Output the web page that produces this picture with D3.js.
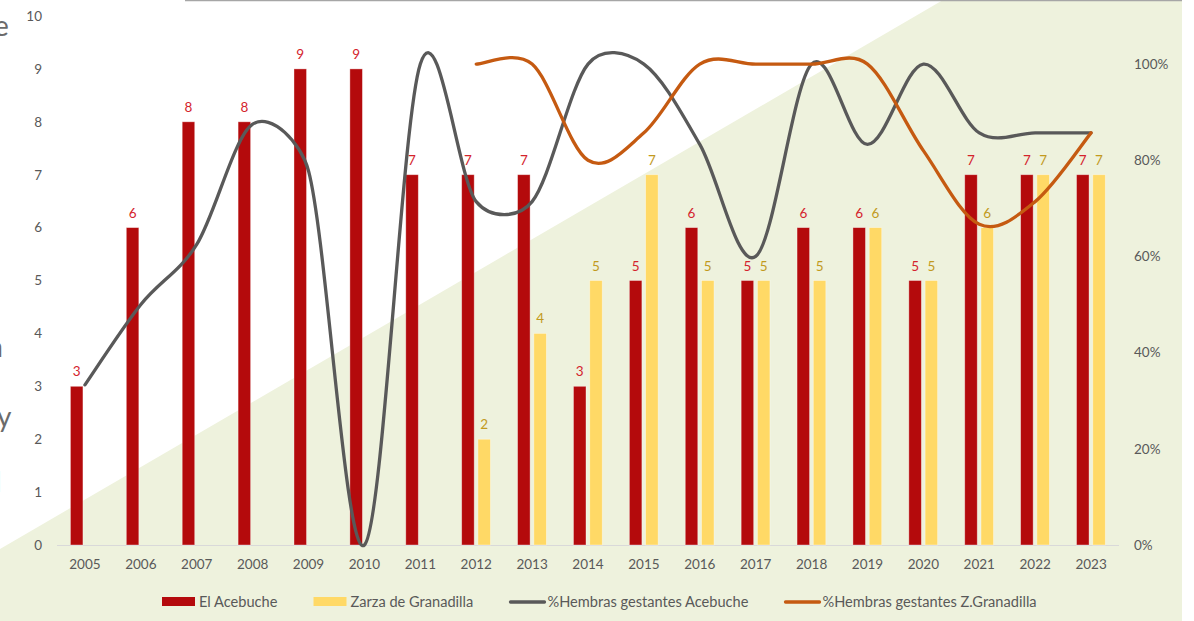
<!DOCTYPE html>
<html><head><meta charset="utf-8">
<script src="https://cdn.jsdelivr.net/npm/d3@7"></script>
<style>body{margin:0;background:#fff;overflow:hidden} svg{display:block}</style>
</head><body><svg id="c" width="1194" height="621"></svg>
<script>
const years = ["2005","2006","2007","2008","2009","2010","2011","2012","2013","2014","2015","2016","2017","2018","2019","2020","2021","2022","2023"];
const acebuche = [3,6,8,8,9,9,7,7,7,3,5,6,5,6,6,5,7,7,7];
const zarza = [null,null,null,null,null,null,null,2,4,5,7,5,5,5,6,5,6,7,7];
const pctAcebuche = [0.333,0.5,0.625,0.875,0.778,0,1,0.714,0.714,1,1,0.833,0.6,1,0.833,1,0.857,0.857,0.857];
const pctZarza = [null,null,null,null,null,null,null,1,1,0.8,0.857,1,1,1,1,0.82,0.667,0.714,0.857];
const leftTicks = [0,1,2,3,4,5,6,7,8,9,10];
const rightTicks = [0,0.2,0.4,0.6,0.8,1];
const seriesNames = ["El Acebuche","Zarza de Granadilla","%Hembras gestantes Acebuche","%Hembras gestantes Z.Granadilla"];

const C = {red:"#B40A0C", yellow:"#FFD966", gray:"#595959", orange:"#C55A11",
  redLbl:"#D4232D", yelLbl:"#C29A1E", axis:"#595959", bg:"#EEF2DD"};
const FONT = "Lato, 'Open Sans', sans-serif";

// Excel-like smoothed curve: cardinal tangents, limited relative to segment length
function excelCurve(context) {
  const K = 0.4;
  let pts = [];
  return {
    areaStart(){}, areaEnd(){},
    lineStart(){ pts = []; },
    point(x,y){ pts.push([+x,+y]); },
    lineEnd(){
      const n = pts.length; if (!n) return;
      context.moveTo(pts[0][0], pts[0][1]);
      const T = pts.map((p,i)=>{const a=pts[Math.max(0,i-1)], b=pts[Math.min(n-1,i+1)];
        return [(b[0]-a[0])/6,(b[1]-a[1])/6];});
      for (let i=0;i<n-1;i++){
        const p=pts[i], q=pts[i+1];
        const seg=Math.hypot(q[0]-p[0],q[1]-p[1]);
        const s1=Math.min(1, K*seg/(Math.hypot(T[i][0],T[i][1])||1));
        const s2=Math.min(1, K*seg/(Math.hypot(T[i+1][0],T[i+1][1])||1));
        context.bezierCurveTo(p[0]+T[i][0]*s1, p[1]+T[i][1]*s1,
          q[0]-T[i+1][0]*s2, q[1]-T[i+1][1]*s2, q[0], q[1]);
      }
    }
  };
}

const svg = d3.select("#c");
svg.append("path").attr("d","M943,0 L1182,0 L1182,621 L0,621 L0,549 Z").attr("fill",C.bg);
svg.append("line").attr("x1",185).attr("x2",1182).attr("y1",0.5).attr("y2",0.5).attr("stroke","#a6a6a6").attr("stroke-width",1.5);
// cropped slide text on left edge (cut off in the original too)
const lt = svg.append("g").attr("fill","#6b6b6b").attr("font-family",FONT).attr("font-size",28);
lt.append("text").attr("x",-6).attr("y",36).text("e");
lt.append("text").attr("x",-11).attr("y",357).text("a");
lt.append("text").attr("x",-3).attr("y",427).text("y");
lt.append("text").attr("x",-5).attr("y",492).text("l");

const x = d3.scaleBand().domain(years).range([57,1119]).padding(0);
const sub = d3.scaleBand().domain(["a","z"]).range([x.bandwidth()*0.24, x.bandwidth()*0.755]).paddingInner(0.23);
const yL = d3.scaleLinear().domain([0,10]).range([545,16]);
const yR = d3.scaleLinear().domain([0,1.1]).range([545,16]);

const gL = svg.append("g").attr("transform","translate(57,0)")
  .call(d3.axisLeft(yL).tickValues(leftTicks).tickSize(0).tickPadding(15).tickFormat(d3.format("d")));
const gR = svg.append("g").attr("transform","translate(1119,0)")
  .call(d3.axisRight(yR).tickValues(rightTicks).tickSize(0).tickPadding(15).tickFormat(d3.format(".0%")));
const gX = svg.append("g").attr("transform","translate(0,545)")
  .call(d3.axisBottom(x).tickSize(0).tickPadding(14));
[gL,gR,gX].forEach(g=>{
  g.select(".domain").remove();
  g.selectAll("text").attr("fill",C.axis).attr("font-family",FONT).attr("font-size",13.5);
});
svg.append("line").attr("x1",57).attr("x2",1119).attr("y1",545.5).attr("y2",545.5).attr("stroke","#d9d9d9").attr("stroke-width",1.2);

const bars = svg.append("g");
years.forEach((yr,i)=>{
  if (acebuche[i]!=null) {
    const bx = x(yr)+sub("a");
    bars.append("rect").attr("x",bx).attr("y",yL(acebuche[i])).attr("width",sub.bandwidth())
      .attr("height",yL(0)-yL(acebuche[i])).attr("fill",C.red).attr("stroke","rgba(255,255,255,0.45)").attr("stroke-width",0.8);
    bars.append("text").attr("x",bx+sub.bandwidth()/2).attr("y",yL(acebuche[i])-10)
      .attr("text-anchor","middle").attr("fill",C.redLbl).attr("font-family",FONT).attr("font-size",13.5).text(acebuche[i]);
  }
  if (zarza[i]!=null) {
    const bx = x(yr)+sub("z");
    bars.append("rect").attr("x",bx).attr("y",yL(zarza[i])).attr("width",sub.bandwidth())
      .attr("height",yL(0)-yL(zarza[i])).attr("fill",C.yellow).attr("stroke","rgba(255,255,255,0.45)").attr("stroke-width",0.8);
    bars.append("text").attr("x",bx+sub.bandwidth()/2).attr("y",yL(zarza[i])-10)
      .attr("text-anchor","middle").attr("fill",C.yelLbl).attr("font-family",FONT).attr("font-size",13.5).text(zarza[i]);
  }
});

const line = d3.line().defined(d=>d.v!=null).x(d=>x(d.y)+x.bandwidth()/2).y(d=>yR(d.v)).curve(excelCurve);
const dA = years.map((y,i)=>({y, v:pctAcebuche[i]}));
const dZ = years.map((y,i)=>({y, v:pctZarza[i]})).filter(d=>d.v!=null);
svg.append("path").attr("d",line(dA)).attr("fill","none").attr("stroke",C.gray).attr("stroke-width",3.3).attr("stroke-linecap","round");
svg.append("path").attr("d",line(dZ)).attr("fill","none").attr("stroke",C.orange).attr("stroke-width",3.3).attr("stroke-linecap","round");

const leg = svg.append("g").attr("font-family",FONT).attr("font-size",14.6).attr("fill",C.axis);
const legX = [162,313.5,509,784];
const legC = [C.red,C.yellow,C.gray,C.orange];
seriesNames.forEach((n,i)=>{
  if (i<2) leg.append("rect").attr("x",legX[i]).attr("y",597).attr("width",33).attr("height",9).attr("fill",legC[i]);
  else leg.append("line").attr("x1",legX[i]+1.5).attr("x2",legX[i]+35.5).attr("y1",602).attr("y2",602).attr("stroke",legC[i]).attr("stroke-width",3.3).attr("stroke-linecap","round");
  leg.append("text").attr("x",legX[i]+(i<2?37:38.5)).attr("y",607).text(n);
});
</script></body></html>
